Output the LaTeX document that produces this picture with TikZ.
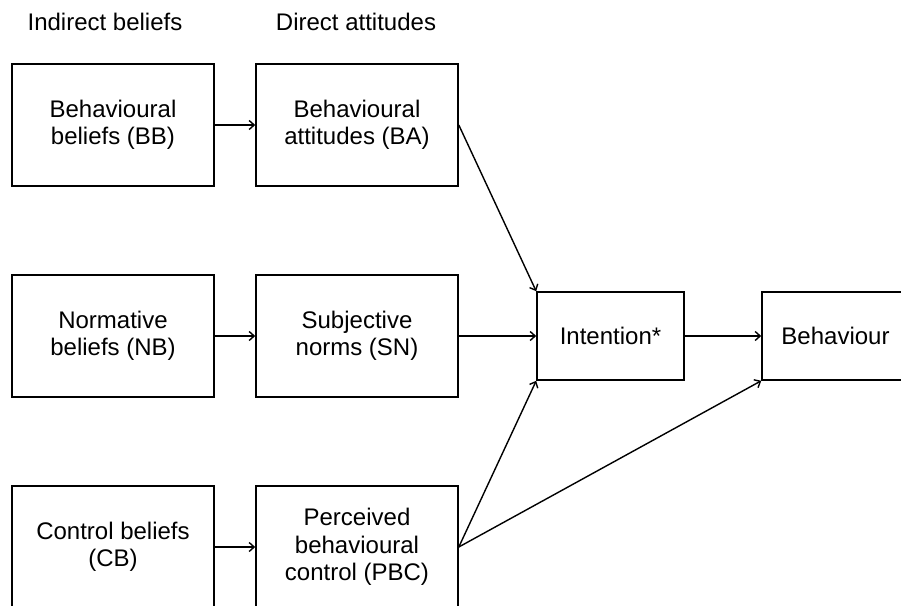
\documentclass[tikz,border=0pt]{standalone}
\usepackage{fontspec}
\setmainfont{Liberation Sans}
\usetikzlibrary{arrows.meta}

\tikzset{
  box/.style={draw, line width=1.6pt, minimum width=202pt, minimum height=122pt,
    align=center, inner sep=0pt},
  smallbox/.style={box, minimum width=147pt, minimum height=88pt},
  link/.style={line width=1.4pt, -{Straight Barb[length=5pt,width=9pt]}},
  heading/.style={inner sep=0pt}
}

\begin{document}
\begin{tikzpicture}[x=1pt,y=-1pt,font=\fontsize{24}{27.5}\selectfont]
    \useasboundingbox (0,0) rectangle (901,605);
    \fill[white] (0,0) rectangle (901,605);

    \node[heading] (indirect) at (105,22) {Indirect beliefs};
    \node[heading] (direct) at (356,22) {Direct attitudes};

    \node[box] (bb) at (113,125) {Behavioural\\beliefs (BB)};
    \node[box] (ba) at (357,125) {Behavioural\\attitudes (BA)};
    \node[box] (nb) at (113,336) {Normative\\beliefs (NB)};
    \node[box] (sn) at (357,336) {Subjective\\norms (SN)};
    \node[box] (cb) at (113,547) {Control beliefs\\(CB)};
    \node[box] (pbc) at (357,547) {Perceived\\behavioural\\control (PBC)};

    \node[smallbox] (intention) at (610.5,336) {Intention*};
    \node[smallbox] (behaviour) at (835.5,336) {Behaviour};

    \foreach \from/\to in {bb/ba,nb/sn,cb/pbc,sn/intention,intention/behaviour}
      \draw[link] (\from) -- (\to);
    \draw[link] (ba.east) -- (intention.north west);
    \draw[link] (pbc.east) -- (intention.south west);
    \draw[link] (pbc.east) -- (behaviour.south west);

\end{tikzpicture}
\end{document}
